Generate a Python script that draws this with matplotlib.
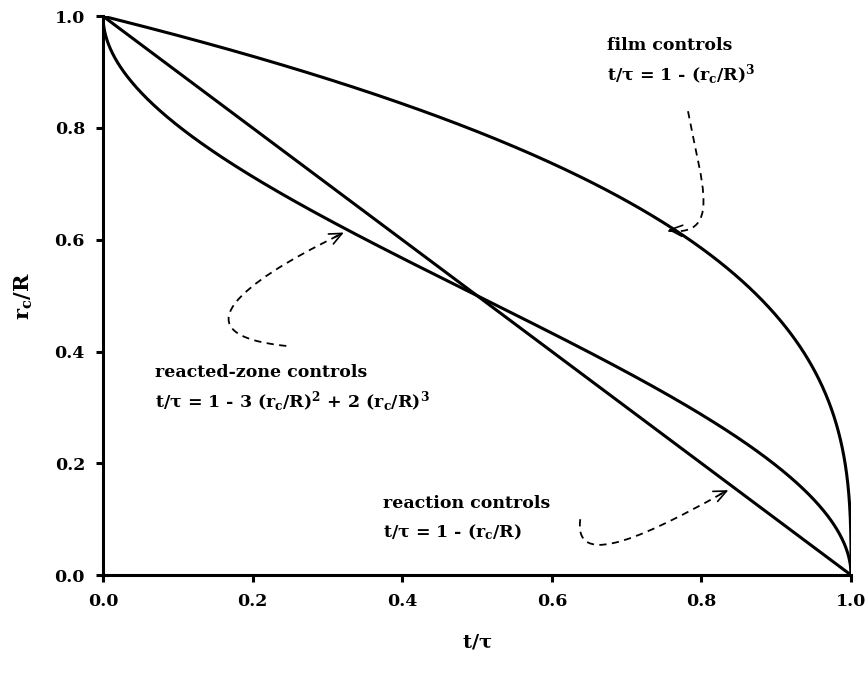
import numpy as np
import matplotlib
matplotlib.use("Agg")
import matplotlib.pyplot as plt
from matplotlib.path import Path
from matplotlib.patches import PathPatch

plt.rcParams["font.family"] = "DejaVu Serif"
plt.rcParams["font.weight"] = "bold"
plt.rcParams["axes.labelweight"] = "bold"
plt.rcParams["mathtext.fontset"] = "custom"
plt.rcParams["mathtext.rm"] = "DejaVu Serif:bold"
plt.rcParams["mathtext.it"] = "DejaVu Serif:bold"
plt.rcParams["mathtext.bf"] = "DejaVu Serif:bold"

# Dimensionless core radius r_c/R (shrinking-core model)
rc = np.linspace(0.0, 1.0, 600)

# Time fraction t/tau for each rate-controlling step
t_film = 1 - rc**3
t_reaction = 1 - rc
t_zone = 1 - 3 * rc**2 + 2 * rc**3

xticks = [0.0, 0.2, 0.4, 0.6, 0.8, 1.0]
yticks = [0.0, 0.2, 0.4, 0.6, 0.8, 1.0]

fig = plt.figure(figsize=(8.68, 6.75), dpi=100)
ax = fig.add_axes([0.1187, 0.148, 0.8618, 0.828])

lw = 2.2
ax.plot(t_film, rc, color="black", lw=lw, solid_capstyle="butt")
ax.plot(t_reaction, rc, color="black", lw=lw, solid_capstyle="butt")
ax.plot(t_zone, rc, color="black", lw=lw, solid_capstyle="butt")

ax.set_xlim(0, 1.0)
ax.set_ylim(0, 1.0)
ax.set_xticks(xticks)
ax.set_yticks(yticks)
ax.set_xticklabels([f"{v:.1f}" for v in xticks])
ax.set_yticklabels([f"{v:.1f}" for v in yticks])
for s in ("top", "right"):
    ax.spines[s].set_visible(False)
for s in ("left", "bottom"):
    ax.spines[s].set_linewidth(2.2)
ax.tick_params(direction="out", length=5, width=2.2, labelsize=12.5, pad=8)
ax.set_xlabel(r"t/$\tau$", fontsize=14, labelpad=16, fontweight="bold")
ax.set_ylabel(r"r$_c$/R", fontsize=15, labelpad=14, fontweight="bold")


def dashed_arrow(verts, codes, tip_from, tip):
    path = Path(verts, codes)
    ax.add_patch(PathPatch(path, fill=False, lw=1.3, ls=(0, (4, 3)),
                           color="black", clip_on=False))
    ax.annotate("", xy=tip, xytext=tip_from,
                arrowprops=dict(arrowstyle="->,head_length=0.9,head_width=0.4",
                                lw=1.2, color="black", shrinkA=0, shrinkB=0))


C = Path.CURVE4
M = Path.MOVETO
# film controls
dashed_arrow([(0.782, 0.83), (0.80, 0.70), (0.83, 0.60), (0.75, 0.617)],
             [M, C, C, C], (0.765, 0.617), (0.755, 0.618))
# reacted-zone controls
dashed_arrow([(0.245, 0.41), (0.10, 0.43), (0.18, 0.52), (0.315, 0.608)],
             [M, C, C, C], (0.31, 0.605), (0.322, 0.613))
# reaction controls
dashed_arrow([(0.638, 0.10), (0.63, 0.02), (0.70, 0.05), (0.83, 0.148)],
             [M, C, C, C], (0.825, 0.145), (0.836, 0.152))

fs = 12.5
ax.text(0.674, 0.94, "film controls", fontsize=fs, ha="left", va="baseline")
ax.text(0.674, 0.885, r"t/$\tau$ = 1 - (r$_c$/R)$^3$", fontsize=fs, ha="left", va="baseline")
ax.text(0.07, 0.355, "reacted-zone controls", fontsize=fs, ha="left", va="baseline")
ax.text(0.07, 0.30, r"t/$\tau$ = 1 - 3 (r$_c$/R)$^2$ + 2 (r$_c$/R)$^3$", fontsize=fs,
        ha="left", va="baseline")
ax.text(0.374, 0.12, "reaction controls", fontsize=fs, ha="left", va="baseline")
ax.text(0.374, 0.068, r"t/$\tau$ = 1 - (r$_c$/R)", fontsize=fs, ha="left", va="baseline")

fig.savefig("out.png", dpi=100)
